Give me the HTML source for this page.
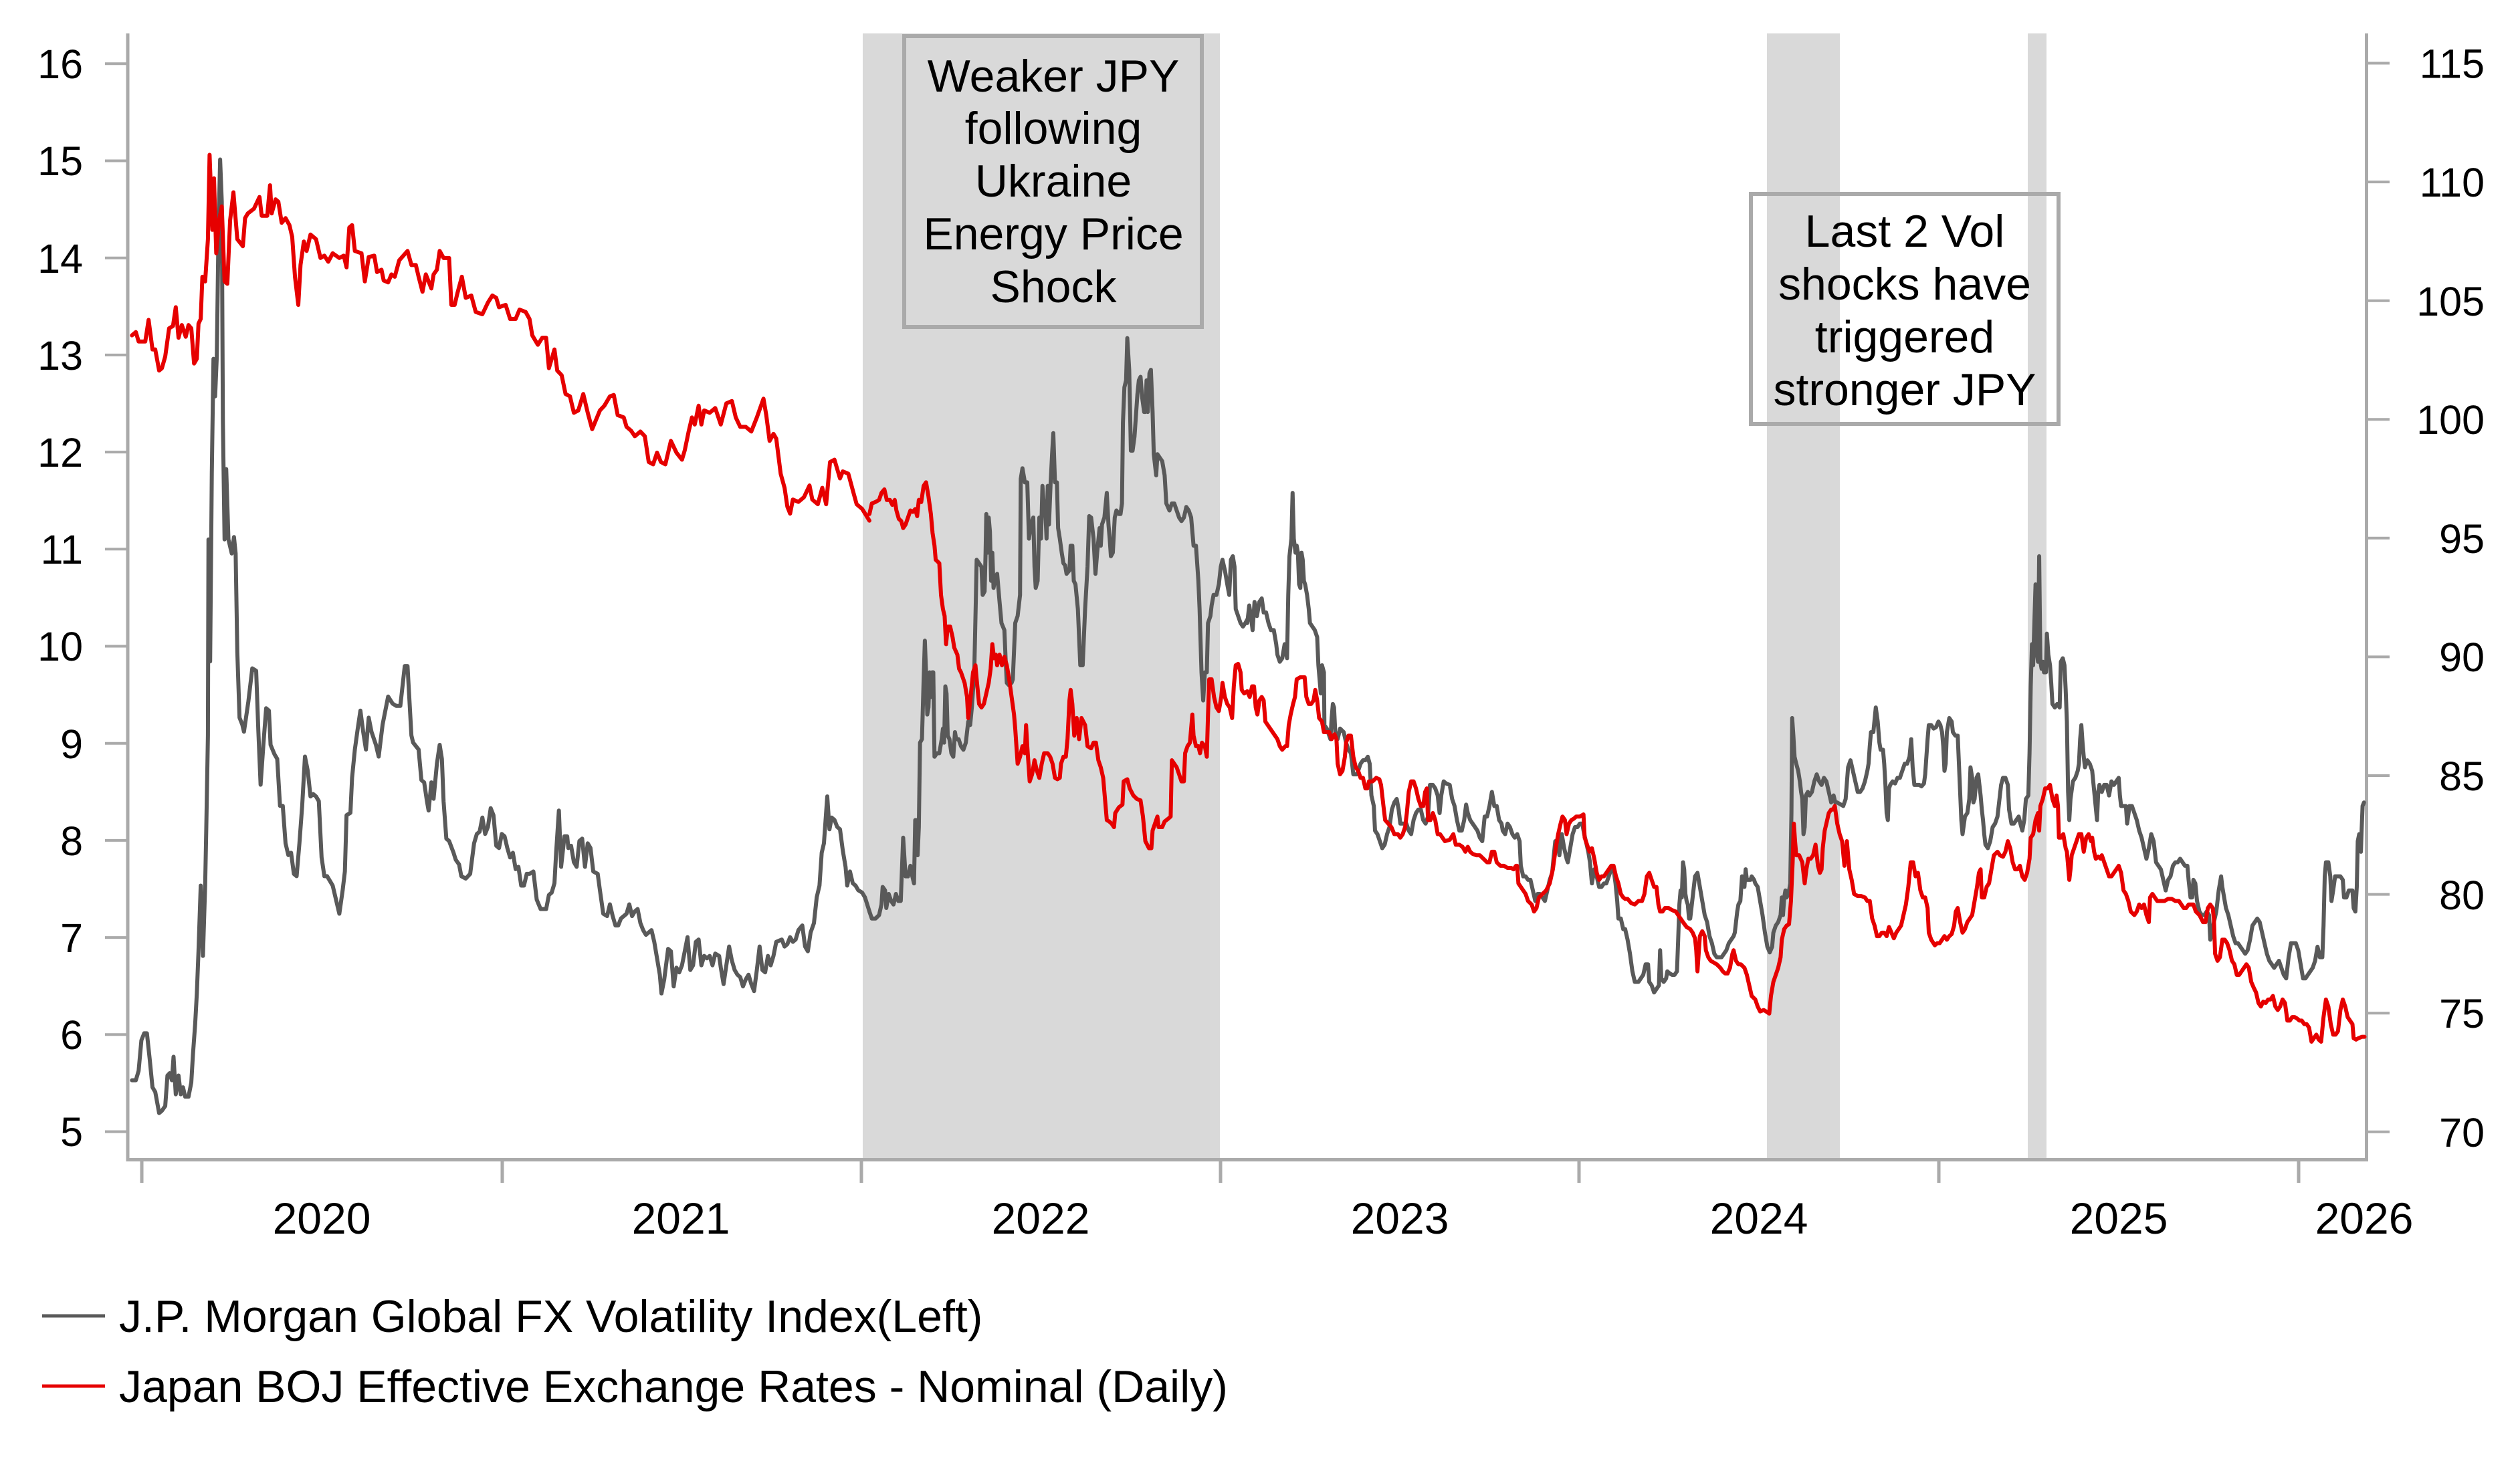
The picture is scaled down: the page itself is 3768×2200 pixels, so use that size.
<!DOCTYPE html>
<html>
<head>
<meta charset="utf-8">
<style>
html,body{margin:0;padding:0;background:#fff;}
svg{display:block;}
text{font-family:"Liberation Sans",Arial,sans-serif;fill:#000;}
.g{fill:none;stroke:#595959;stroke-width:6;stroke-linejoin:round;stroke-linecap:round;}
.r{fill:none;stroke:#e60000;stroke-width:6;stroke-linejoin:round;stroke-linecap:round;}
</style>
</head>
<body>
<svg width="3768" height="2200" viewBox="0 0 3768 2200" xmlns="http://www.w3.org/2000/svg">
<rect x="0" y="0" width="3768" height="2200" fill="#fff"/>

<!-- shaded bands -->
<rect x="1290" y="50" width="534" height="1683" fill="#d9d9d9"/>
<rect x="2642" y="50" width="109" height="1683" fill="#d9d9d9"/>
<rect x="3032" y="50" width="28" height="1683" fill="#d9d9d9"/>

<!-- annotation boxes -->
<rect x="1352" y="54" width="445" height="435" fill="none" stroke="#aaaaaa" stroke-width="6"/>
<g font-size="68" text-anchor="middle">
<text x="1575" y="137">Weaker JPY</text>
<text x="1575" y="215">following</text>
<text x="1575" y="294">Ukraine</text>
<text x="1575" y="373">Energy Price</text>
<text x="1575" y="452">Shock</text>
</g>
<rect x="2618" y="290" width="460" height="344" fill="none" stroke="#aaaaaa" stroke-width="6"/>
<g font-size="68" text-anchor="middle">
<text x="2848" y="369">Last 2 Vol</text>
<text x="2848" y="448">shocks have</text>
<text x="2848" y="527">triggered</text>
<text x="2848" y="606">stronger JPY</text>
</g>

<!-- axes -->
<g stroke="#aaaaaa" fill="none">
<line x1="191" y1="50" x2="191" y2="1737" stroke-width="5"/>
<line x1="3538.5" y1="50" x2="3538.5" y2="1737" stroke-width="5"/>
<line x1="189" y1="1734.5" x2="3541" y2="1734.5" stroke-width="5"/>
<g stroke-width="4">
<line x1="157" y1="95.3" x2="191" y2="95.3"/>
<line x1="157" y1="240.5" x2="191" y2="240.5"/>
<line x1="157" y1="385.7" x2="191" y2="385.7"/>
<line x1="157" y1="530.9" x2="191" y2="530.9"/>
<line x1="157" y1="676.1" x2="191" y2="676.1"/>
<line x1="157" y1="821.3" x2="191" y2="821.3"/>
<line x1="157" y1="966.5" x2="191" y2="966.5"/>
<line x1="157" y1="1111.7" x2="191" y2="1111.7"/>
<line x1="157" y1="1256.9" x2="191" y2="1256.9"/>
<line x1="157" y1="1402.1" x2="191" y2="1402.1"/>
<line x1="157" y1="1547.3" x2="191" y2="1547.3"/>
<line x1="157" y1="1692.5" x2="191" y2="1692.5"/>
</g>
<g stroke-width="4">
<line x1="3538" y1="94.5" x2="3573" y2="94.5"/>
<line x1="3538" y1="272.1" x2="3573" y2="272.1"/>
<line x1="3538" y1="449.7" x2="3573" y2="449.7"/>
<line x1="3538" y1="627.3" x2="3573" y2="627.3"/>
<line x1="3538" y1="804.8" x2="3573" y2="804.8"/>
<line x1="3538" y1="982.4" x2="3573" y2="982.4"/>
<line x1="3538" y1="1160" x2="3573" y2="1160"/>
<line x1="3538" y1="1337.6" x2="3573" y2="1337.6"/>
<line x1="3538" y1="1515.2" x2="3573" y2="1515.2"/>
<line x1="3538" y1="1692.8" x2="3573" y2="1692.8"/>
</g>
<g stroke-width="5">
<line x1="212" y1="1735" x2="212" y2="1769"/>
<line x1="751" y1="1735" x2="751" y2="1769"/>
<line x1="1288" y1="1735" x2="1288" y2="1769"/>
<line x1="1825" y1="1735" x2="1825" y2="1769"/>
<line x1="2361" y1="1735" x2="2361" y2="1769"/>
<line x1="2899" y1="1735" x2="2899" y2="1769"/>
<line x1="3437" y1="1735" x2="3437" y2="1769"/>
</g>
</g>

<!-- left labels -->
<g font-size="61" text-anchor="end">
<text x="124" y="117">16</text>
<text x="124" y="262">15</text>
<text x="124" y="408">14</text>
<text x="124" y="553">13</text>
<text x="124" y="698">12</text>
<text x="124" y="843">11</text>
<text x="124" y="988">10</text>
<text x="124" y="1134">9</text>
<text x="124" y="1279">8</text>
<text x="124" y="1424">7</text>
<text x="124" y="1569">6</text>
<text x="124" y="1714">5</text>
</g>
<!-- right labels -->
<g font-size="61" text-anchor="end">
<text x="3715" y="116.5">115</text>
<text x="3715" y="294">110</text>
<text x="3715" y="472">105</text>
<text x="3715" y="649">100</text>
<text x="3715" y="827">95</text>
<text x="3715" y="1004">90</text>
<text x="3715" y="1182">85</text>
<text x="3715" y="1360">80</text>
<text x="3715" y="1537">75</text>
<text x="3715" y="1715">70</text>
</g>
<!-- x labels -->
<g font-size="66" text-anchor="middle">
<text x="481" y="1845">2020</text>
<text x="1018" y="1845">2021</text>
<text x="1556" y="1845">2022</text>
<text x="2093" y="1845">2023</text>
<text x="2630" y="1845">2024</text>
<text x="3168" y="1845">2025</text>
<text x="3535" y="1845">2026</text>
</g>

<!-- Segment A (x 0-1300) -->
<g transform="scale(0.82905,0.70151)">
<polyline class="g" vector-effect="non-scaling-stroke" points="238,2303 245,2303 250,2283 255,2218 260,2203 265,2203 270,2258 275,2318 280,2328 287,2373 292,2368 298,2358 302,2293 306,2288 310,2303 313,2253 317,2333 322,2293 326,2333 330,2318 334,2338 340,2338 345,2308 348,2248 352,2183 355,2118 358,2028 362,1888 366,2038 370,1888 372,1768 375,1568 376,1150 379,1410 382,1010 385,765 388,845 391,760 394,500 397,340 400,430 402,900 405,1150 408,1000 412,1150 418,1180 422,1145 425,1180 428,1390 432,1530 437,1545 440,1560 448,1495 455,1425 462,1430 466,1560 470,1673 475,1588 480,1510 485,1515 488,1588 495,1608 500,1618 505,1718 510,1718 515,1798 520,1823 525,1818 530,1863 535,1868 540,1798 545,1718 550,1613 555,1643 560,1698 565,1693 570,1698 575,1708 580,1828 585,1868 590,1868 595,1878 600,1888 605,1913 612,1948 618,1898 622,1858 625,1738 632,1733 635,1658 640,1598 645,1555 650,1515 655,1560 660,1598 665,1530 670,1560 678,1588 683,1613 690,1545 700,1485 708,1500 715,1505 722,1505 730,1420 735,1420 742,1568 745,1583 755,1598 760,1663 765,1668 770,1708 773,1728 778,1668 782,1703 788,1628 793,1588 797,1618 800,1708 805,1788 810,1793 818,1818 822,1833 828,1843 832,1868 840,1873 848,1863 855,1798 860,1778 865,1773 870,1743 875,1778 880,1763 885,1723 890,1738 895,1803 900,1808 905,1778 910,1783 915,1808 920,1828 925,1818 930,1853 935,1848 940,1888 945,1888 950,1863 955,1863 962,1858 968,1918 975,1938 985,1938 990,1908 995,1903 1000,1883 1003,1818 1008,1728 1012,1848 1018,1783 1023,1783 1025,1808 1030,1803 1035,1838 1040,1848 1045,1793 1050,1788 1055,1848 1060,1798 1065,1808 1070,1858 1078,1863 1082,1898 1088,1948 1095,1953 1100,1928 1105,1953 1110,1973 1115,1973 1120,1958 1125,1953 1130,1948 1135,1928 1140,1953 1145,1943 1150,1938 1155,1968 1160,1983 1165,1993 1175,1983 1180,2008 1185,2043 1190,2078 1193,2118 1198,2088 1205,2023 1210,2028 1215,2103 1220,2063 1225,2073 1230,2058 1235,2028 1240,1998 1245,2068 1250,2058 1255,2008 1260,2003 1265,2058 1270,2038 1275,2043 1280,2038 1285,2058 1290,2033 1297,2038 1300,2063 1305,2098 1310,2058 1315,2018 1320,2048 1325,2068 1330,2078 1335,2083 1340,2103 1345,2088 1350,2078 1355,2098 1360,2113 1365,2068 1370,2018 1375,2068 1380,2073 1385,2038 1390,2058 1395,2038 1400,2008 1410,2003 1415,2018 1420,2013 1425,1998 1430,2008 1435,2003 1440,1983 1447,1973 1452,2018 1457,2028 1462,1988 1468,1968 1473,1913 1478,1888 1482,1818 1486,1798 1492,1698 1496,1768 1500,1743 1505,1748 1510,1763 1515,1768 1520,1813 1525,1848 1528,1888 1533,1858 1538,1883 1543,1888 1548,1898 1555,1903 1560,1913 1568,1943"/>
<polyline class="r" vector-effect="non-scaling-stroke" points="238,715 245,708 250,728 262,728 268,682 275,745 280,745 287,790 292,785 298,760 305,700 312,695 317,655 322,720 328,693 335,718 340,693 345,700 350,775 355,765 358,690 362,680 365,590 370,600 375,510 378,330 383,490 386,380 390,540 395,470 400,440 405,600 410,605 415,470 421,410 428,510 438,525 442,465 447,455 458,445 468,420 472,460 482,460 487,395 490,455 497,425 502,430 508,475 515,465 522,480 527,505 532,590 538,650 542,565 548,515 553,535 560,500 570,510 578,550 585,545 592,558 600,540 612,550 620,545 625,570 630,485 635,480 640,535 652,540 658,600 665,548 675,545 680,580 688,575 692,598 700,602 706,585 712,590 720,555 735,535 742,565 750,565 755,590 762,622 768,585 778,615 782,585 788,575 793,535 800,550 810,550 814,650 820,650 825,625 833,590 840,635 850,630 858,665 870,670 880,645 888,630 895,635 900,655 912,650 920,680 930,680 937,660 948,665 955,680 960,715 970,735 978,720 985,720 990,785 1000,745 1005,790 1013,800 1020,840 1028,845 1035,880 1043,875 1052,840 1060,880 1068,915 1075,895 1082,875 1090,865 1100,845 1107,842 1114,885 1125,890 1130,910 1138,918 1145,930 1155,920 1163,930 1170,985 1178,990 1185,965 1192,985 1200,990 1210,940 1220,965 1230,980 1235,960 1242,920 1248,890 1253,905 1260,865 1265,905 1270,875 1280,880 1290,870 1300,905 1310,860 1320,855 1327,890 1335,910 1345,910 1355,920 1365,890 1377,850 1382,885 1388,940 1395,925 1400,935 1408,1010 1415,1040 1420,1080 1425,1095 1430,1065 1440,1070 1450,1060 1460,1035 1465,1065 1475,1075 1483,1040 1490,1075 1497,985 1505,980 1515,1020 1520,1005 1530,1010 1538,1045 1545,1075 1555,1085 1568,1110"/>
</g>

<!-- Segment B (x 1300-1865) -->
<g transform="translate(1300,90) scale(0.36033,1.05230)">
<polyline class="g" vector-effect="non-scaling-stroke" points="0,1210 10,1220 25,1220 40,1215 50,1200 55,1175 65,1180 70,1205 80,1185 90,1195 100,1200 110,1185 120,1195 130,1195 140,1105 150,1160 160,1160 170,1145 178,1160 185,1170 190,1080 195,1080 200,1130 205,1090 210,970 218,965 225,880 230,825 235,870 240,930 245,920 250,870 255,905 260,870 265,870 270,990 280,985 290,985 300,965 305,950 310,970 315,890 320,900 325,960 332,965 340,985 348,990 355,955 360,965 370,965 380,975 390,980 400,970 410,940 418,945 425,920 435,870 442,760 445,710 455,715 465,720 470,760 478,755 482,700 485,645 490,700 495,650 500,670 505,740 510,700 515,750 520,740 530,730 540,770 548,800 560,810 565,850 570,885 578,888 590,885 595,880 605,800 615,790 625,760 628,595 635,580 645,600 655,600 662,680 670,660 680,650 685,720 690,750 698,740 705,650 712,680 718,605 725,640 730,640 735,680 740,605 745,660 752,600 758,560 763,530 770,600 778,600 783,665 790,680 798,700 805,715 812,718 818,730 830,725 835,690 842,690 848,740 855,745 865,780 875,860 885,860 895,780 905,720 912,648 920,650 930,680 938,730 945,700 955,665 960,690 965,660 975,650 985,615 992,660 997,680 1002,705 1010,700 1018,650 1025,640 1035,645 1042,645 1048,630 1052,515 1058,465 1065,455 1070,395 1078,440 1085,555 1092,555 1100,535 1105,510 1112,475 1118,455 1125,450 1132,480 1140,500 1145,500 1150,455 1155,500 1162,445 1168,440 1175,500 1180,560 1190,590 1195,560 1205,565 1215,570 1225,590 1232,630 1245,640 1255,630 1265,630 1275,640 1285,650 1295,655 1305,650 1315,635 1325,640 1335,650 1345,690 1355,690 1365,740 1370,780 1378,870 1385,910 1392,870 1400,870 1405,800 1415,790 1420,775 1428,760 1440,760 1450,745 1458,720 1465,710 1475,725 1485,745 1493,760 1500,710 1508,705 1515,720 1520,780 1530,790 1540,800 1550,805 1560,800 1568,795"/>
<polyline class="r" vector-effect="non-scaling-stroke" points="0,645 10,630 25,628 40,625 50,615 62,610 72,625 85,625 95,632 105,625 112,640 122,652 132,655 140,665 150,660 160,650 170,640 180,642 190,638 198,648 205,625 215,628 225,605 235,600 245,620 255,645 262,672 270,690 275,710 290,715 297,760 305,780 312,790 318,830 325,805 335,805 345,820 352,835 365,845 372,865 380,870 395,885 405,905 410,935 420,905 430,870 440,860 445,880 455,915 465,920 475,915 485,900 495,885 503,865 510,830 517,850 525,845 530,860 540,845 550,860 560,848 570,860 580,880 590,905 600,930 605,950 615,1000 625,990 635,975 645,985 650,945 655,975 665,1025 675,1015 685,995 695,1010 705,1020 715,1000 725,985 740,985 750,990 760,1000 770,1020 780,1022 790,1020 795,1000 805,990 815,990 822,965 830,910 835,895 842,915 850,960 860,935 870,965 880,935 895,945 905,975 920,978 930,970 940,970 950,995 960,1005 970,1020 980,1060 985,1080 995,1082 1005,1085 1015,1090 1020,1070 1035,1062 1050,1058 1055,1025 1070,1022 1080,1035 1095,1045 1110,1050 1125,1052 1135,1075 1145,1110 1160,1120 1170,1120 1175,1095 1185,1085 1195,1075 1200,1090 1215,1090 1225,1082 1240,1078 1250,1075 1255,995 1265,1000 1275,1005 1285,1015 1295,1025 1305,1025 1310,985 1320,975 1330,970 1340,930 1345,960 1355,975 1365,975 1372,985 1380,970 1392,975 1400,990 1405,930 1410,880 1420,880 1430,905 1440,920 1450,925 1460,905 1465,885 1475,905 1485,915 1495,920 1505,935 1512,890 1520,860 1530,858 1540,870 1545,895 1555,900 1568,897"/>
</g>

<!-- Segment C (x 1865-2430) -->
<g transform="translate(1865,90) scale(0.36033,1.05230)">
<polyline class="g" vector-effect="non-scaling-stroke" points="0,800 8,775 15,790 22,810 30,770 40,790 50,770 60,765 68,785 78,785 88,800 98,810 110,810 120,830 125,845 135,855 145,850 155,830 165,850 170,760 175,705 183,680 188,615 193,680 200,700 205,690 210,700 215,745 220,750 225,700 230,710 235,740 240,745 248,760 255,780 260,800 270,805 280,810 290,820 295,860 300,880 305,900 310,860 318,870 320,945 330,950 345,965 350,935 355,915 360,920 365,955 375,965 385,950 400,955 410,970 420,980 430,985 440,1015 455,1015 470,1000 480,995 490,995 500,990 508,1000 515,1045 525,1060 530,1095 540,1100 550,1110 560,1120 570,1115 580,1100 590,1090 600,1065 610,1055 620,1050 628,1065 635,1085 650,1085 660,1085 670,1095 680,1100 690,1080 700,1070 710,1065 720,1065 730,1080 740,1085 750,1075 758,1030 770,1030 780,1035 790,1045 798,1070 805,1045 815,1025 825,1028 840,1030 850,1050 860,1060 870,1080 880,1095 890,1095 900,1080 908,1058 915,1070 925,1080 935,1085 945,1090 955,1095 965,1105 975,1110 985,1075 995,1075 1005,1060 1015,1040 1025,1060 1035,1060 1045,1080 1055,1085 1060,1095 1070,1100 1080,1085 1090,1090 1100,1100 1110,1105 1120,1100 1130,1110 1135,1145 1145,1160 1155,1160 1165,1165 1175,1165 1185,1180 1195,1195 1205,1185 1215,1185 1225,1190 1235,1195 1245,1180 1255,1165 1265,1155 1272,1130 1278,1110 1288,1110 1295,1130 1305,1100 1315,1120 1325,1135 1330,1140 1340,1120 1350,1100 1360,1090 1370,1090 1380,1085 1390,1085 1398,1100 1405,1110 1415,1125 1422,1140 1430,1170 1440,1150 1450,1160 1460,1175 1470,1175 1480,1170 1490,1170 1500,1160 1510,1150 1520,1150 1528,1170 1535,1195 1540,1220 1550,1220 1560,1235 1568,1235"/>
<polyline class="r" vector-effect="non-scaling-stroke" points="0,897 10,905 20,890 28,890 35,920 42,930 50,910 60,905 68,910 75,940 85,945 95,950 105,955 115,960 125,965 135,975 145,980 158,975 165,975 172,945 180,930 190,915 198,905 205,880 220,877 238,877 245,905 255,915 265,915 275,910 282,895 290,910 298,935 310,940 318,955 330,955 340,955 350,965 362,958 370,965 375,1000 385,1015 395,1010 405,990 410,970 420,960 430,960 440,990 450,1005 460,1010 470,1020 480,1020 490,1035 498,1035 505,1025 520,1025 535,1020 548,1022 555,1030 565,1060 572,1080 585,1085 598,1090 610,1100 625,1100 635,1105 645,1100 655,1090 662,1070 670,1040 680,1025 690,1025 700,1035 710,1050 720,1060 730,1060 738,1040 745,1035 750,1080 760,1080 770,1070 780,1080 790,1100 800,1100 810,1105 820,1110 840,1108 855,1100 865,1115 880,1115 893,1118 905,1125 915,1118 925,1125 935,1128 950,1130 965,1130 980,1135 995,1140 1005,1140 1015,1125 1025,1125 1035,1140 1050,1145 1065,1145 1080,1148 1095,1148 1105,1150 1115,1145 1120,1145 1125,1170 1135,1175 1145,1180 1155,1185 1165,1195 1180,1200 1190,1210 1200,1205 1210,1190 1225,1185 1240,1180 1255,1170 1268,1150 1280,1120 1290,1100 1300,1085 1308,1075 1318,1080 1325,1100 1335,1085 1345,1080 1355,1078 1365,1075 1380,1075 1395,1072 1400,1105 1410,1115 1420,1125 1430,1120 1440,1135 1450,1155 1460,1165 1470,1160 1480,1160 1490,1155 1500,1150 1510,1145 1520,1145 1530,1160 1540,1170 1550,1185 1560,1190 1568,1192"/>
</g>

<!-- Segment D (x 2430-2995) -->
<g transform="translate(2430,90) scale(0.36033,1.05230)">
<polyline class="g" vector-effect="non-scaling-stroke" points="0,1235 10,1250 20,1270 30,1295 40,1310 55,1310 65,1305 75,1300 85,1285 95,1285 100,1310 110,1315 120,1325 130,1320 140,1315 145,1265 150,1305 160,1310 170,1305 175,1295 185,1298 195,1300 205,1300 215,1295 220,1250 225,1200 230,1180 235,1190 240,1140 245,1150 250,1185 255,1195 260,1200 265,1220 270,1220 275,1205 280,1190 290,1160 300,1155 310,1175 320,1195 330,1215 340,1225 350,1245 360,1255 370,1270 380,1275 390,1275 400,1275 410,1270 420,1265 430,1255 440,1250 450,1245 455,1240 460,1225 465,1210 470,1200 478,1195 485,1160 490,1165 495,1175 500,1150 505,1165 510,1165 520,1165 525,1160 535,1165 540,1170 550,1175 560,1195 570,1215 580,1240 590,1260 600,1268 610,1260 615,1240 625,1230 635,1225 645,1215 650,1190 655,1215 660,1190 665,1180 670,1190 678,1185 685,1170 690,1070 693,935 698,960 703,990 710,1000 718,1010 725,1025 730,1040 735,1050 740,1100 745,1090 750,1045 758,1040 765,1045 775,1040 785,1025 795,1015 805,1025 815,1030 825,1020 835,1025 845,1040 855,1055 865,1045 872,1055 880,1055 895,1058 905,1060 915,1050 925,1005 935,995 945,1010 955,1025 965,1040 975,1040 985,1035 995,1025 1005,1010 1010,1000 1015,975 1020,955 1030,955 1040,920 1048,940 1055,970 1060,980 1070,980 1075,1000 1080,1030 1085,1070 1090,1080 1095,1035 1100,1030 1110,1025 1120,1028 1130,1020 1140,1020 1150,1010 1160,1000 1170,1000 1180,990 1187,965 1193,1005 1200,1030 1210,1030 1220,1030 1230,1032 1240,1028 1245,1015 1250,990 1255,965 1260,945 1270,945 1280,950 1290,948 1300,940 1308,945 1315,955 1320,975 1325,1010 1330,1000 1335,955 1340,945 1345,935 1355,940 1360,955 1370,960 1380,960 1385,1000 1390,1040 1395,1080 1400,1100 1410,1075 1420,1070 1428,1050 1433,1005 1440,1020 1445,1055 1450,1050 1458,1020 1465,1015 1470,1030 1475,1045 1480,1065 1485,1080 1490,1100 1495,1115 1505,1120 1515,1110 1525,1090 1535,1085 1545,1075 1555,1045 1560,1030 1568,1020"/>
<polyline class="r" vector-effect="non-scaling-stroke" points="0,1192 10,1192 25,1198 40,1200 55,1195 70,1195 80,1185 90,1160 100,1155 110,1165 120,1175 130,1175 138,1200 145,1210 155,1210 165,1205 180,1205 195,1208 210,1210 220,1215 230,1220 240,1225 255,1232 270,1235 280,1240 290,1248 295,1265 300,1295 305,1270 310,1245 320,1238 330,1245 335,1265 345,1275 355,1280 365,1282 380,1285 395,1290 405,1295 415,1298 425,1298 435,1290 445,1270 450,1265 460,1280 470,1285 480,1285 495,1290 505,1300 515,1315 525,1330 540,1335 550,1345 560,1352 575,1350 585,1352 598,1355 605,1330 615,1310 625,1300 635,1290 645,1275 650,1250 660,1235 670,1230 680,1228 688,1195 695,1140 700,1085 705,1110 710,1130 722,1130 735,1140 745,1170 752,1150 760,1135 770,1135 780,1130 790,1115 800,1145 808,1155 815,1150 820,1120 828,1095 835,1085 845,1070 855,1065 862,1065 870,1060 880,1085 890,1100 900,1110 910,1145 920,1110 930,1150 940,1165 950,1185 965,1188 980,1188 995,1190 1005,1195 1015,1195 1025,1220 1035,1230 1045,1245 1055,1245 1065,1240 1075,1240 1085,1245 1095,1232 1105,1240 1115,1248 1125,1240 1135,1235 1145,1230 1155,1215 1165,1200 1175,1175 1185,1140 1195,1140 1205,1160 1215,1155 1225,1180 1235,1190 1245,1190 1255,1205 1260,1240 1270,1250 1285,1258 1295,1255 1305,1255 1315,1250 1325,1245 1335,1250 1345,1245 1355,1242 1365,1230 1372,1210 1380,1205 1390,1225 1400,1240 1410,1235 1420,1225 1430,1220 1440,1215 1450,1195 1460,1175 1468,1155 1475,1150 1480,1190 1490,1190 1500,1175 1510,1170 1520,1150 1530,1130 1545,1125 1555,1130 1568,1132"/>
</g>

<!-- Segment E (x 2995-3560) -->
<g transform="translate(2995,90) scale(0.36033,1.05230)">
<polyline class="g" vector-effect="non-scaling-stroke" points="0,1020 10,1020 20,1030 25,1065 35,1085 45,1085 55,1080 65,1075 72,1085 80,1095 88,1080 95,1050 105,1045 110,985 115,890 120,830 125,860 130,800 135,745 140,840 145,855 150,705 155,855 160,865 165,855 170,870 178,870 182,815 188,845 195,860 200,885 205,915 215,920 225,915 235,920 240,855 248,850 255,860 260,895 265,940 270,1040 275,1080 280,1050 290,1025 300,1020 310,1010 315,1000 320,965 325,945 330,970 335,990 340,1005 350,995 360,1000 370,1010 380,1045 390,1080 395,1040 400,1030 410,1040 420,1030 430,1030 440,1045 450,1025 460,1030 470,1025 480,1020 485,1045 490,1060 500,1060 510,1060 515,1085 525,1060 535,1060 545,1070 555,1080 565,1095 575,1105 585,1120 595,1135 605,1120 615,1100 625,1110 635,1140 645,1145 655,1150 665,1165 675,1180 685,1165 695,1160 705,1145 715,1140 725,1140 735,1135 745,1140 755,1145 765,1145 770,1165 778,1190 785,1190 790,1165 798,1170 805,1195 815,1210 825,1215 835,1215 845,1210 855,1215 860,1250 865,1245 875,1225 885,1210 895,1180 905,1160 910,1175 915,1185 925,1205 935,1215 945,1230 955,1245 965,1255 975,1255 985,1260 995,1265 1005,1270 1015,1265 1025,1250 1035,1230 1045,1225 1055,1220 1065,1225 1075,1240 1085,1255 1095,1270 1105,1280 1115,1285 1125,1290 1135,1285 1145,1280 1155,1290 1165,1300 1175,1305 1185,1275 1195,1255 1205,1255 1215,1255 1225,1265 1235,1285 1245,1305 1255,1305 1265,1300 1275,1295 1285,1290 1295,1280 1305,1260 1315,1275 1325,1275 1330,1230 1335,1160 1340,1140 1350,1140 1358,1160 1363,1195 1370,1180 1378,1160 1390,1160 1400,1160 1410,1165 1415,1190 1425,1190 1435,1180 1445,1180 1450,1180 1455,1205 1462,1210 1468,1175 1472,1110 1478,1100 1485,1125 1488,1095 1492,1060 1498,1055"/>
<polyline class="r" vector-effect="non-scaling-stroke" points="0,1132 10,1125 20,1110 30,1120 40,1140 50,1150 60,1150 70,1145 80,1160 90,1165 100,1155 110,1135 115,1105 125,1100 135,1080 145,1070 150,1095 155,1060 165,1050 175,1035 185,1035 195,1030 205,1050 215,1060 222,1045 228,1060 232,1105 240,1105 250,1100 260,1120 265,1125 270,1145 275,1165 280,1150 285,1130 295,1120 305,1110 315,1100 325,1100 335,1125 345,1105 355,1100 365,1110 370,1105 378,1125 385,1135 395,1132 405,1135 410,1130 420,1140 430,1150 440,1160 450,1160 460,1155 470,1150 480,1145 490,1155 500,1180 510,1185 520,1195 530,1210 545,1215 555,1210 565,1200 575,1205 585,1200 595,1215 605,1225 610,1190 620,1185 630,1190 640,1195 655,1195 670,1195 685,1192 700,1192 715,1195 730,1195 740,1200 750,1205 760,1205 770,1200 780,1200 790,1200 800,1210 815,1215 830,1225 840,1225 850,1205 860,1200 870,1205 875,1220 880,1270 890,1280 900,1275 910,1250 920,1250 930,1255 940,1265 950,1280 960,1285 970,1300 980,1300 990,1295 1000,1290 1010,1285 1020,1290 1030,1310 1040,1318 1050,1325 1060,1340 1070,1345 1080,1338 1090,1340 1100,1335 1110,1335 1120,1330 1130,1345 1140,1350 1150,1345 1160,1335 1170,1340 1180,1365 1190,1365 1200,1360 1210,1360 1220,1362 1230,1365 1240,1365 1250,1370 1260,1370 1270,1375 1280,1395 1290,1390 1300,1385 1310,1392 1320,1395 1330,1360 1340,1335 1350,1345 1360,1370 1370,1385 1380,1385 1390,1380 1400,1350 1410,1335 1420,1345 1430,1360 1440,1365 1450,1370 1455,1390 1465,1392 1475,1390 1490,1388 1500,1388"/>
</g>

<!-- legend -->
<line x1="63" y1="1968" x2="157" y2="1968" stroke="#595959" stroke-width="5"/>
<text x="178" y="1992" font-size="68">J.P. Morgan Global FX Volatility Index(Left)</text>
<line x1="63" y1="2073" x2="157" y2="2073" stroke="#e60000" stroke-width="5"/>
<text x="178" y="2097" font-size="68">Japan BOJ Effective Exchange Rates - Nominal (Daily)</text>
</svg>
</body>
</html>
